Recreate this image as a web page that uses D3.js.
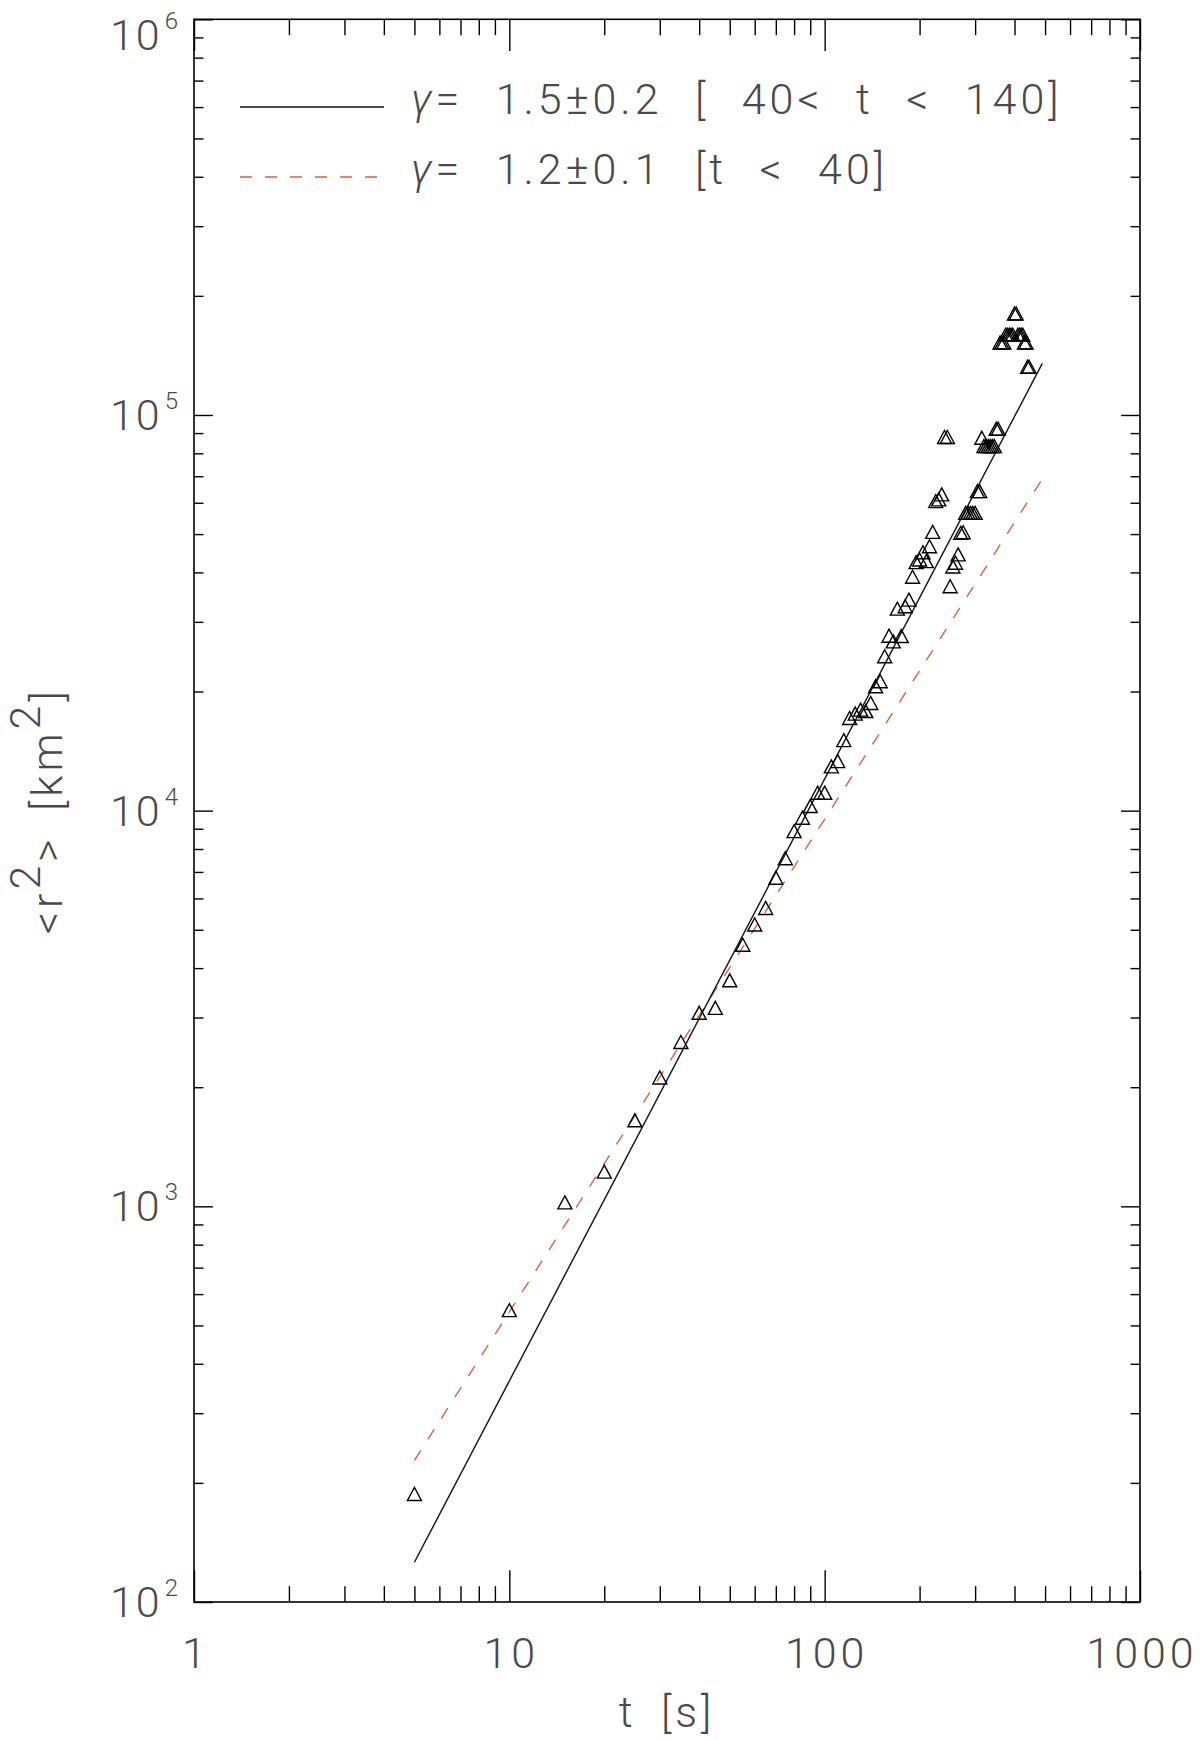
<!DOCTYPE html>
<html lang="en">
  <head>
    <meta charset="utf-8" />
    <title>Mean square displacement</title>
    <style>
      body {
        margin: 0;
        background: #fff;
      }
      svg text {
        font-family: Roboto, "Liberation Sans", sans-serif;
        font-weight: 300;
        fill: #4a4a4a;
        letter-spacing: 4px;
        white-space: pre;
      }
      .ticks line {
        stroke: #000;
        stroke-width: 1.4px;
      }
    </style>
    <script src="https://cdn.jsdelivr.net/npm/d3@7"></script>
  </head>
  <body>
    <svg width="1200" height="1740"></svg>
    <script>
      // time since start [s]
      var tSec = [
        5, 10, 15, 20, 25, 30, 35, 40, 45, 50, 55, 60, 65, 70, 75, 80, 85, 90,
        95, 100, 105, 110, 115, 120, 125, 130, 135, 140, 145, 150, 155, 160,
        165, 170, 175, 180, 185, 190, 195, 200, 205, 210, 215, 220, 225, 230,
        235, 240, 245, 250, 255, 260, 265, 270, 275, 280, 285, 290, 295, 300,
        305, 310, 315, 320, 325, 330, 335, 340, 345, 350, 355, 360, 365, 370,
        375, 380, 385, 390, 395, 400, 405, 410, 415, 420, 425, 430, 435, 440,
        445,
      ];
      // mean square displacement <r^2> [km^2]
      var r2 = [
        187, 545, 1020, 1220, 1645, 2110, 2595, 3075, 3165, 3715, 4570, 5140,
        5660, 6750, 7560, 8850, 9570, 10240, 11070, 11070, 12900, 13300, 15030,
        17100, 17540, 17950, 17800, 18660, 20560, 21170, 24490, 27600, 26700,
        32300, 27540, 32760, 34040, 38900, 42340, 43000, 44850, 42600, 46450,
        50500, 60400, 61000, 62800, 87700, 87700, 36800, 41300, 42200, 44300,
        50200, 50400, 56400, 56400, 56400, 56400, 56400, 64000, 64000, 87300,
        83200, 83200, 83200, 83200, 83200, 83200, 92000, 92000, 152000, 152000,
        152000, 159000, 159000, 159000, 159000, 159000, 180000, 180000, 159000,
        159000, 159000, 159000, 152000, 152000, 132000, 132000,
      ];

      // power-law fits, given by their end points
      var fitSolidT = [5, 490];
      var fitSolidR = [126, 135000];
      var fitDashT = [5, 490];
      var fitDashR = [228, 68900];

      var legendLabels = ["= 1.5\u00b10.2 [ 40< t < 140]", "= 1.2\u00b10.1 [t < 40]"];
      var xMajor = [1, 10, 100, 1000];
      var yExp = [2, 3, 4, 5, 6];

      var svg = d3.select("svg");
      var mLeft = 194,
        mRight = 1140,
        mTop = 19.3,
        mBottom = 1602;

      var x = d3.scaleLog().domain([1, 1000]).range([mLeft, mRight]);
      var y = d3.scaleLog().domain([100, 1e6]).range([mBottom, mTop]);

      var isPow10 = (v) => Math.abs(Math.log10(v) - Math.round(Math.log10(v))) < 1e-9;
      var xMinor = x.ticks().filter((v) => !isPow10(v));
      var yMinor = y.ticks().filter((v) => !isPow10(v));
      var yMajor = y.ticks().filter(isPow10);

      // ticks on all four sides, pointing inwards
      var xLen = 0.02 * (mBottom - mTop),
        yLen = 0.02 * (mRight - mLeft);

      var addTicks = (axisFn, pos, values, len) => {
        var g = svg
          .append("g")
          .attr("class", "ticks")
          .attr("transform", pos)
          .call(axisFn.tickValues(values).tickSize(-len).tickFormat(""));
        g.select(".domain").remove();
      };

      addTicks(d3.axisBottom(x), `translate(0,${mBottom})`, xMinor, xLen / 2);
      addTicks(d3.axisBottom(x), `translate(0,${mBottom})`, xMajor, xLen);
      addTicks(d3.axisTop(x), `translate(0,${mTop})`, xMinor, xLen / 2);
      addTicks(d3.axisTop(x), `translate(0,${mTop})`, xMajor, xLen);
      addTicks(d3.axisLeft(y), `translate(${mLeft},0)`, yMinor, yLen / 2);
      addTicks(d3.axisLeft(y), `translate(${mLeft},0)`, yMajor, yLen);
      addTicks(d3.axisRight(y), `translate(${mRight},0)`, yMinor, yLen / 2);
      addTicks(d3.axisRight(y), `translate(${mRight},0)`, yMajor, yLen);

      // frame
      svg
        .append("rect")
        .attr("x", mLeft)
        .attr("y", mTop)
        .attr("width", mRight - mLeft)
        .attr("height", mBottom - mTop)
        .attr("fill", "none")
        .attr("stroke", "#000")
        .attr("stroke-width", 1.6);

      // x tick labels
      svg
        .append("g")
        .selectAll("text")
        .data(xMajor)
        .enter()
        .append("text")
        .attr("x", (d) => x(d) + 2)
        .attr("y", mBottom + 66)
        .attr("text-anchor", "middle")
        .attr("font-size", 43)
        .text((d) => d);

      // y tick labels, 10^n
      var yl = svg
        .append("g")
        .selectAll("text")
        .data(yExp)
        .enter()
        .append("text")
        .attr("x", mLeft - 16)
        .attr("y", (d) => Math.max(y(Math.pow(10, d)) + 15, mTop + 31))
        .attr("text-anchor", "end")
        .attr("font-size", 43)
        .style("letter-spacing", "2px");
      yl.append("tspan").text("10");
      yl.append("tspan")
        .attr("dx", 3)
        .attr("dy", -21)
        .attr("font-size", 24)
        .style("letter-spacing", "0px")
        .text((d) => d);

      // axis titles
      svg
        .append("text")
        .attr("x", (mLeft + mRight) / 2)
        .attr("y", 1727)
        .attr("text-anchor", "middle")
        .attr("font-size", 43)
        .style("word-spacing", "10px")
        .text("t [s]");

      var yt = svg
        .append("text")
        .attr("transform", `translate(62,${(mTop + mBottom) / 2}) rotate(-90)`)
        .attr("text-anchor", "middle")
        .attr("font-size", 43)
        .style("word-spacing", "10px");
      yt.append("tspan").text("<r");
      yt.append("tspan").attr("dy", -22).text("2");
      yt.append("tspan").attr("dy", 22).text("> [km");
      yt.append("tspan").attr("dy", -22).text("2");
      yt.append("tspan").attr("dy", 22).text("]");

      // fit lines
      var line = d3
        .line()
        .x((d) => x(d[0]))
        .y((d) => y(d[1]));

      svg
        .append("path")
        .datum(d3.zip(fitDashT, fitDashR))
        .attr("d", line)
        .attr("fill", "none")
        .attr("stroke", "#d9623c")
        .attr("stroke-width", 1.4)
        .attr("stroke-dasharray", "12,13");

      svg
        .append("path")
        .datum(d3.zip(fitSolidT, fitSolidR))
        .attr("d", line)
        .attr("fill", "none")
        .attr("stroke", "#111")
        .attr("stroke-width", 1.4);

      // data: open triangles
      var tri = "M0,-7L7,6L-7,6Z";
      svg
        .append("g")
        .selectAll("path")
        .data(d3.zip(tSec, r2))
        .enter()
        .append("path")
        .attr("d", tri)
        .attr("transform", (d) => `translate(${x(d[0])},${y(d[1])})`)
        .attr("fill", "none")
        .attr("stroke", "#000")
        .attr("stroke-width", 1.4);

      // legend
      var legendY = [107, 177];
      var legendStyle = [
        { stroke: "#111", dash: null },
        { stroke: "#d9623c", dash: "12,13" },
      ];
      var lg = svg.append("g").attr("class", "legend");
      legendLabels.forEach((lab, i) => {
        lg.append("line")
          .attr("x1", 240)
          .attr("x2", 384)
          .attr("y1", legendY[i])
          .attr("y2", legendY[i])
          .attr("stroke", legendStyle[i].stroke)
          .attr("stroke-width", 1.4)
          .attr("stroke-dasharray", legendStyle[i].dash);
        var t = lg
          .append("text")
          .attr("x", 411)
          .attr("y", legendY[i] + 7)
          .attr("font-size", 43)
          .style("word-spacing", "18px");
        t.append("tspan").attr("font-style", "italic").text("\u03b3");
        t.append("tspan").text(lab);
      });
    </script>
  </body>
</html>
